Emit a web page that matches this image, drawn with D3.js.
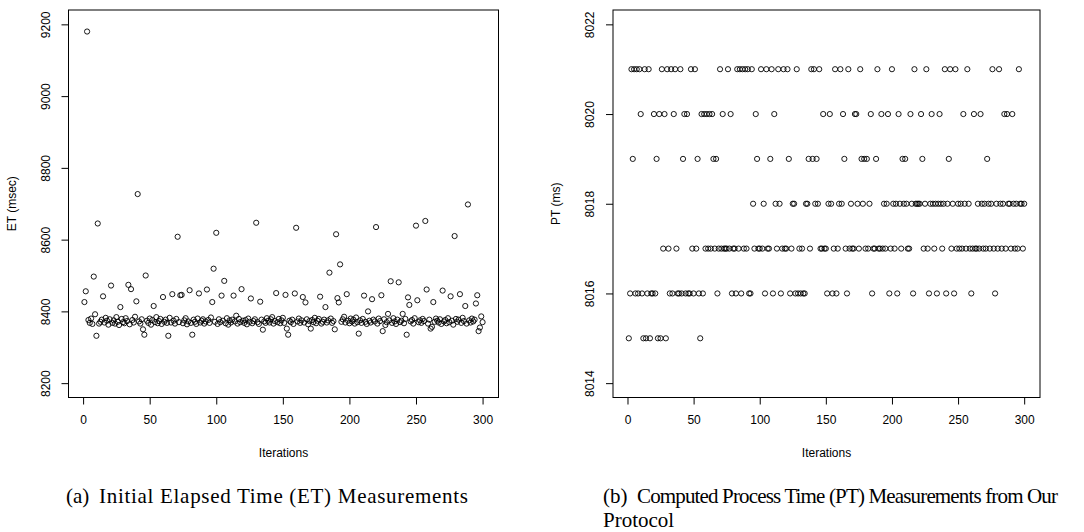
<!DOCTYPE html>
<meta charset="utf-8">
<style>
  body{ margin:0; background:#fff; }
  svg text{ font-family:"Liberation Sans", Arial, Helvetica, sans-serif; font-size:12px; fill:#000; }
  .pt{ fill:none; stroke:#000; stroke-width:0.9px; }
  .axis path, .axis line{ stroke:#000; stroke-width:1px; }
  svg text.caption{ font-family:"Liberation Serif", "Times New Roman", serif; font-size:21px; }
</style>
<body>
<script src="https://cdn.jsdelivr.net/npm/d3@7"></script>
<script>

  // elapsed time per iteration (msec), iterations 1..300
  var etValues=[
    8426,8456,9180,8376,8368,8380,8365,8497,8392,8332,
    8645,8366,8371,8377,8442,8369,8382,8374,8363,8378,
    8472,8368,8375,8366,8384,8371,8362,8412,8379,8370,
    8367,8381,8373,8474,8364,8462,8376,8369,8385,8428,
    8727,8372,8366,8378,8350,8335,8500,8374,8368,8380,
    8363,8376,8415,8370,8384,8367,8373,8379,8365,8440,
    8371,8377,8368,8332,8382,8369,8448,8374,8366,8379,
    8608,8370,8445,8446,8367,8375,8381,8364,8372,8459,
    8368,8335,8377,8371,8365,8380,8450,8369,8374,8378,
    8366,8372,8461,8376,8368,8383,8426,8519,8371,8619,
    8365,8378,8370,8444,8374,8485,8367,8381,8363,8375,
    8369,8377,8444,8372,8388,8366,8379,8370,8462,8374,
    8368,8376,8364,8380,8371,8436,8367,8373,8378,8647,
    8370,8365,8427,8377,8349,8372,8368,8381,8374,8369,
    8378,8384,8366,8373,8451,8370,8379,8367,8375,8382,
    8368,8446,8352,8335,8374,8370,8377,8365,8450,8633,
    8372,8380,8368,8375,8440,8369,8425,8378,8364,8373,
    8352,8376,8370,8382,8367,8374,8379,8441,8366,8371,
    8377,8412,8369,8375,8508,8380,8368,8373,8350,8615,
    8437,8425,8531,8371,8378,8385,8369,8448,8374,8367,
    8380,8372,8377,8366,8383,8370,8338,8375,8368,8379,
    8444,8371,8365,8400,8374,8369,8434,8377,8372,8635,
    8366,8380,8373,8445,8345,8378,8362,8370,8393,8375,
    8484,8368,8381,8372,8365,8377,8481,8370,8374,8393,
    8367,8379,8335,8439,8418,8372,8376,8366,8381,8639,
    8431,8370,8375,8368,8379,8373,8652,8461,8366,8377,
    8352,8357,8426,8371,8380,8374,8369,8378,8365,8458,
    8372,8376,8367,8381,8370,8442,8374,8363,8610,8379,
    8371,8377,8448,8368,8382,8373,8415,8366,8698,8375,
    8369,8380,8372,8377,8422,8445,8345,8355,8386,8370
  ];

  // computed process time per iteration (ms), iterations 1..300
  var ptValues=[
    8015,8016,8021,8019,8021,8016,8021,8016,8021,8020,
    8016,8015,8021,8015,8016,8021,8015,8016,8016,8020,
    8016,8019,8015,8020,8015,8021,8017,8020,8015,8021,
    8017,8016,8021,8016,8020,8021,8017,8016,8016,8021,
    8016,8019,8020,8016,8020,8016,8016,8021,8017,8016,
    8021,8017,8019,8016,8015,8020,8016,8020,8017,8020,
    8017,8020,8017,8020,8019,8017,8019,8016,8017,8021,
    8017,8020,8017,8017,8017,8021,8017,8020,8016,8017,
    8017,8016,8021,8017,8021,8016,8021,8017,8021,8017,
    8021,8016,8016,8021,8018,8017,8020,8019,8017,8017,
    8021,8017,8018,8016,8021,8017,8017,8019,8021,8016,
    8020,8018,8017,8021,8018,8016,8017,8021,8017,8017,
    8021,8019,8016,8017,8018,8018,8016,8021,8016,8017,
    8016,8017,8016,8016,8018,8018,8019,8017,8021,8019,
    8021,8018,8019,8018,8021,8017,8017,8020,8017,8017,
    8016,8018,8020,8018,8016,8017,8021,8016,8017,8018,
    8021,8018,8020,8019,8017,8016,8021,8017,8018,8017,
    8017,8020,8020,8018,8017,8021,8019,8018,8019,8017,
    8019,8017,8018,8020,8016,8017,8017,8019,8021,8017,
    8017,8020,8017,8018,8017,8018,8020,8016,8017,8021,
    8018,8017,8018,8016,8020,8018,8017,8019,8018,8019,
    8018,8017,8017,8020,8018,8016,8021,8018,8018,8018,
    8018,8020,8019,8017,8018,8021,8017,8016,8018,8020,
    8018,8017,8018,8016,8018,8020,8018,8017,8018,8021,
    8016,8018,8019,8021,8017,8018,8016,8021,8017,8018,
    8017,8018,8017,8020,8018,8017,8021,8018,8017,8016,
    8017,8020,8017,8017,8018,8017,8020,8018,8017,8018,
    8017,8019,8018,8017,8018,8021,8017,8016,8018,8017,
    8021,8018,8017,8018,8020,8017,8020,8018,8018,8017,
    8020,8018,8017,8018,8017,8021,8018,8018,8017,8018
  ];

  var xTicks=[0,50,100,150,200,250,300];
  var etTicks=[8200,8400,8600,8800,9000,9200];
  var ptTicks=[8014,8016,8018,8020,8022];
  var etLim=[8200,9200];
  var ptLim=[8014,8022];

  var svg=d3.select("body").append("svg").attr("width",1084).attr("height",532);
  svg.append("rect").attr("width",1084).attr("height",532).attr("fill","#fff");

  var boxTop=10, boxBottom=397.5;

  function panel(left,right,values,lim,yTicks,yLabel){
    var n=values.length;
    var xpad=(n-1)*0.04, ypad=(lim[1]-lim[0])*0.04;
    var x=d3.scaleLinear().domain([1-xpad,n+xpad]).range([left,right]);
    var y=d3.scaleLinear().domain([lim[0]-ypad,lim[1]+ypad]).range([boxBottom,boxTop]);
    var g=svg.append("g");

    g.selectAll("circle").data(values).join("circle")
      .attr("class","pt")
      .attr("cx",(d,i)=>x(i+1))
      .attr("cy",d=>y(d))
      .attr("r",2.6);

    g.append("rect")
      .attr("x",left).attr("y",boxTop)
      .attr("width",right-left).attr("height",boxBottom-boxTop)
      .attr("fill","none").attr("stroke","#000");

    g.append("g").attr("class","axis")
      .attr("transform","translate(0,"+boxBottom+")")
      .call(d3.axisBottom(x).tickValues(xTicks).tickSize(7).tickSizeOuter(0).tickPadding(10.5).tickFormat(d3.format("d")))
      .call(a=>a.select(".domain").remove())
      .selectAll("text").attr("font-family",null).attr("font-size",null);

    g.append("g").attr("class","axis")
      .attr("transform","translate("+left+",0)")
      .call(d3.axisLeft(y).tickValues(yTicks).tickSize(7).tickSizeOuter(0).tickFormat(d3.format("d")))
      .call(a=>a.select(".domain").remove())
      .selectAll("text")
        .attr("font-family",null).attr("font-size",null)
        .attr("transform","rotate(-90)")
        .attr("x",0).attr("y",-19).attr("dy",null)
        .attr("text-anchor","middle");

    g.append("text")
      .attr("x",(left+right)/2).attr("y",457)
      .attr("text-anchor","middle")
      .text("Iterations");

    g.append("text")
      .attr("transform","translate("+(left-53)+","+((boxTop+boxBottom)/2)+") rotate(-90)")
      .attr("text-anchor","middle")
      .text(yLabel);
  }

  panel(68.5,498.5,etValues,etLim,etTicks,"ET (msec)");
  panel(613,1040,ptValues,ptLim,ptTicks,"PT (ms)");

  svg.append("text").attr("class","caption").attr("x",66).attr("y",503).text("(a)");
  svg.append("text").attr("class","caption").attr("x",99).attr("y",503)
    .attr("textLength",369).attr("lengthAdjust","spacing")
    .text("Initial Elapsed Time (ET) Measurements");
  svg.append("text").attr("class","caption").attr("x",603).attr("y",503).text("(b)");
  svg.append("text").attr("class","caption").attr("x",637).attr("y",503)
    .attr("textLength",421).attr("lengthAdjust","spacing")
    .text("Computed Process Time (PT) Measurements from Our");
  svg.append("text").attr("class","caption").attr("x",603).attr("y",527).text("Protocol");
</script>
</body>
</html>
